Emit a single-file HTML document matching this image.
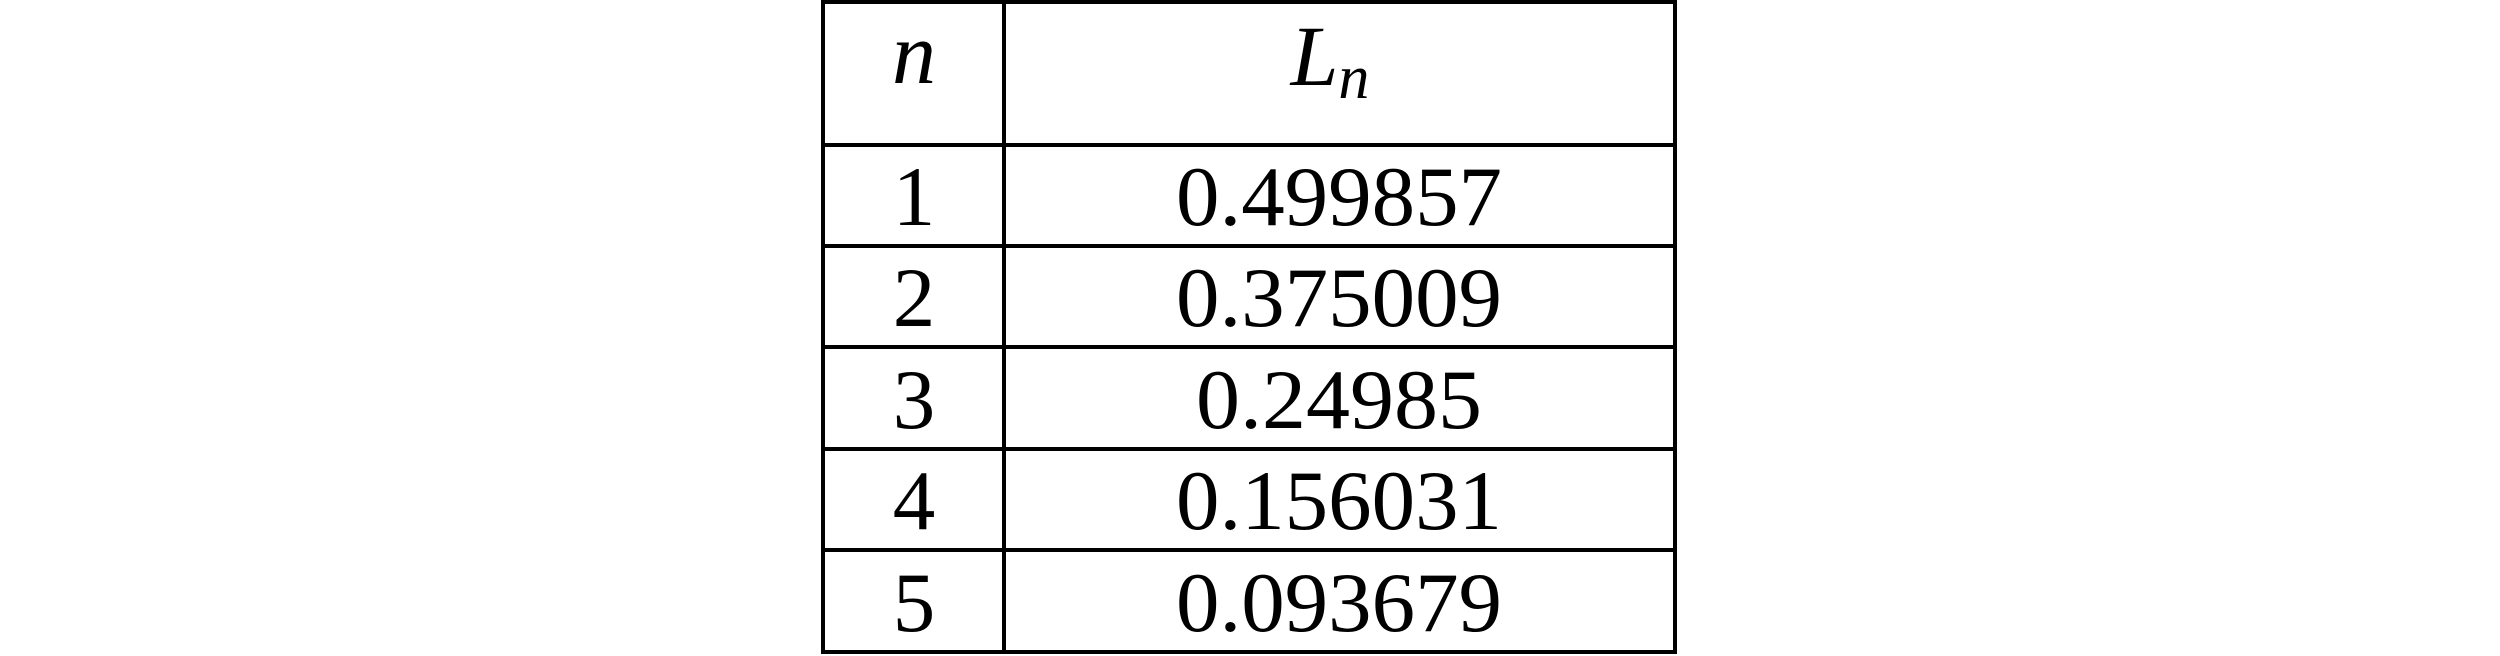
<!DOCTYPE html>
<html><head><meta charset="utf-8"><style>
html,body{margin:0;padding:0;background:#fff;}
svg{display:block;}
text{font-family:"Liberation Serif",serif;fill:#000;}
</style></head><body>
<svg width="2500" height="656" viewBox="0 0 2500 656">
<g id="grid" stroke="#000" stroke-width="4" fill="none">
<rect x="823" y="2" width="852" height="650"/>
<line x1="1004" y1="2" x2="1004" y2="652"/>
</g>
<text x="914" y="83" font-size="88" font-style="italic" text-anchor="middle">n</text>
<text x="1330" y="85" font-size="86" font-style="italic" text-anchor="middle">L<tspan font-size="62" dy="13">n</tspan></text>
<g id="rows"></g>
</svg>
<script>
const ns=[1,2,3,4,5];
const vals=["0.499857","0.375009","0.24985","0.156031","0.093679"];
const lines=[145,246,347,449,550,652];
const g=document.getElementById('rows');
const grid=document.getElementById('grid');
const S='http://www.w3.org/2000/svg';
lines.slice(0,5).forEach((y,i)=>{
  const l=document.createElementNS(S,'line');
  
  
  l.setAttribute('x1',823);l.setAttribute('x2',1675);l.setAttribute('y1',y);l.setAttribute('y2',y);
  grid.appendChild(l);
});
ns.forEach((n,i)=>{
  const base=lines[i+1]-21;
  const t=document.createElementNS(S,'text');
  
  
  t.setAttribute('x',914);t.setAttribute('y',base);t.setAttribute('font-size',85);t.setAttribute('text-anchor','middle');
  t.textContent=n;g.appendChild(t);
  const v=document.createElementNS(S,'text');
  
  
  const w=vals[i].length===8?326:286;
  v.setAttribute('x',1339-w/2);v.setAttribute('y',base);v.setAttribute('font-size',85);
  v.setAttribute('textLength',w);v.setAttribute('lengthAdjust','spacingAndGlyphs');
  v.textContent=vals[i];g.appendChild(v);
});
</script>
</body></html>
